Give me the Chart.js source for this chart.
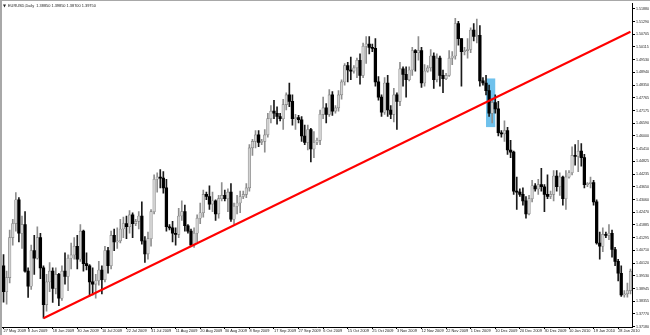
<!DOCTYPE html>
<html>
<head>
<meta charset="utf-8">
<script src="https://cdn.jsdelivr.net/npm/chart.js@4.4.0/dist/chart.umd.min.js"></script>
<style>
  body { margin: 0; background: #fff; }
</style>
</head>
<body>
<canvas id="eurusdChart" width="650" height="335"></canvas>
<script>
const dates = [
  '27 May 2009','28 May 2009','29 May 2009',
  '1 Jun 2009','2 Jun 2009','3 Jun 2009','4 Jun 2009','5 Jun 2009',
  '8 Jun 2009','9 Jun 2009','10 Jun 2009','11 Jun 2009','12 Jun 2009',
  '15 Jun 2009','16 Jun 2009','17 Jun 2009','18 Jun 2009','19 Jun 2009',
  '22 Jun 2009','23 Jun 2009','24 Jun 2009','25 Jun 2009','26 Jun 2009',
  '29 Jun 2009','30 Jun 2009','1 Jul 2009','2 Jul 2009','3 Jul 2009',
  '6 Jul 2009','7 Jul 2009','8 Jul 2009','9 Jul 2009','10 Jul 2009',
  '13 Jul 2009','14 Jul 2009','15 Jul 2009','16 Jul 2009','17 Jul 2009',
  '20 Jul 2009','21 Jul 2009','22 Jul 2009','23 Jul 2009','24 Jul 2009',
  '26 Jul 2009','27 Jul 2009','28 Jul 2009','29 Jul 2009','30 Jul 2009','31 Jul 2009',
  '3 Aug 2009','4 Aug 2009','5 Aug 2009','6 Aug 2009','7 Aug 2009',
  '9 Aug 2009','10 Aug 2009','11 Aug 2009','12 Aug 2009','13 Aug 2009','14 Aug 2009',
  '16 Aug 2009','17 Aug 2009','18 Aug 2009','19 Aug 2009','20 Aug 2009','21 Aug 2009',
  '23 Aug 2009','24 Aug 2009','25 Aug 2009','26 Aug 2009','27 Aug 2009','28 Aug 2009',
  '30 Aug 2009','31 Aug 2009','1 Sep 2009','2 Sep 2009','3 Sep 2009','4 Sep 2009',
  '6 Sep 2009','7 Sep 2009','8 Sep 2009','9 Sep 2009','10 Sep 2009','11 Sep 2009',
  '13 Sep 2009','14 Sep 2009','15 Sep 2009','16 Sep 2009','17 Sep 2009','18 Sep 2009',
  '20 Sep 2009','21 Sep 2009','22 Sep 2009','23 Sep 2009','24 Sep 2009','25 Sep 2009',
  '27 Sep 2009','28 Sep 2009','29 Sep 2009','30 Sep 2009','1 Oct 2009','2 Oct 2009',
  '4 Oct 2009','5 Oct 2009','6 Oct 2009','7 Oct 2009','8 Oct 2009','9 Oct 2009',
  '11 Oct 2009','12 Oct 2009','13 Oct 2009','14 Oct 2009','15 Oct 2009','16 Oct 2009',
  '18 Oct 2009','19 Oct 2009','20 Oct 2009','21 Oct 2009','22 Oct 2009','23 Oct 2009',
  '25 Oct 2009','26 Oct 2009','27 Oct 2009','28 Oct 2009','29 Oct 2009','30 Oct 2009',
  '1 Nov 2009','2 Nov 2009','3 Nov 2009','4 Nov 2009','5 Nov 2009','6 Nov 2009',
  '8 Nov 2009','9 Nov 2009','10 Nov 2009','11 Nov 2009','12 Nov 2009','13 Nov 2009',
  '15 Nov 2009','16 Nov 2009','17 Nov 2009','18 Nov 2009','19 Nov 2009','20 Nov 2009',
  '22 Nov 2009','23 Nov 2009','24 Nov 2009','25 Nov 2009','26 Nov 2009','27 Nov 2009',
  '29 Nov 2009','30 Nov 2009','1 Dec 2009','2 Dec 2009','3 Dec 2009','4 Dec 2009',
  '6 Dec 2009','7 Dec 2009','8 Dec 2009','9 Dec 2009','10 Dec 2009','11 Dec 2009',
  '13 Dec 2009','14 Dec 2009','15 Dec 2009','16 Dec 2009','17 Dec 2009','18 Dec 2009',
  '20 Dec 2009','21 Dec 2009','22 Dec 2009','23 Dec 2009','24 Dec 2009',
  '27 Dec 2009','28 Dec 2009','29 Dec 2009','30 Dec 2009','31 Dec 2009',
  '3 Jan 2010','4 Jan 2010','5 Jan 2010','6 Jan 2010','7 Jan 2010','8 Jan 2010',
  '10 Jan 2010','11 Jan 2010','12 Jan 2010','13 Jan 2010','14 Jan 2010','15 Jan 2010',
  '17 Jan 2010','18 Jan 2010','19 Jan 2010','20 Jan 2010','21 Jan 2010','22 Jan 2010',
  '24 Jan 2010','25 Jan 2010','26 Jan 2010','27 Jan 2010','28 Jan 2010','29 Jan 2010',
  '31 Jan 2010','1 Feb 2010','2 Feb 2010'
];

const opens = [
  1.4000,1.3880,1.3945,
  1.4130,1.4195,1.4305,1.4150,1.4190,
  1.3975,1.3905,1.4070,1.4035,1.4130,
  1.3990,1.3820,1.3925,1.3975,1.3895,
  1.3960,1.3850,1.3975,1.3950,1.4035,
  1.4050,1.4090,1.4030,1.4160,1.4010,
  1.4000,1.3925,1.3915,1.3930,1.3980,
  1.3935,1.4070,1.4000,1.4140,1.4110,
  1.4115,1.4170,1.4195,1.4180,1.4235,
  1.4195,1.4205,1.4230,1.4115,1.4055,1.4125,
  1.4250,1.4400,1.4410,1.4405,1.4360,
  1.4180,1.4175,1.4150,1.4145,1.4230,1.4250,
  1.4185,1.4160,1.4095,1.4150,1.4220,1.4245,
  1.4330,1.4320,1.4285,1.4300,1.4240,1.4310,
  1.4325,1.4310,1.4340,1.4215,1.4275,1.4290,
  1.4320,1.4330,1.4360,1.4545,1.4575,1.4605,
  1.4570,1.4575,1.4605,1.4680,1.4715,1.4705,
  1.4690,1.4680,1.4745,1.4790,1.4760,1.4680,
  1.4685,1.4675,1.4600,1.4570,1.4630,1.4540,
  1.4570,1.4580,1.4700,1.4730,1.4700,1.4790,
  1.4715,1.4730,1.4790,1.4850,1.4925,1.4905,
  1.4900,1.4915,1.4950,1.4880,1.5015,1.5025,
  1.5010,1.5005,1.4850,1.4780,1.4710,1.4845,
  1.4720,1.4700,1.4790,1.4760,1.4910,1.4885,
  1.4860,1.4905,1.4995,1.4985,1.4995,1.4845,
  1.4900,1.4915,1.4970,1.4860,1.4960,1.4880,
  1.4865,1.4880,1.4960,1.4970,1.5120,1.5050,
  1.4990,1.4995,1.5000,1.5090,1.5060,1.5065,
  1.4855,1.4845,1.4810,1.4705,1.4755,1.4725,
  1.4615,1.4610,1.4625,1.4535,1.4525,1.4345,
  1.4340,1.4330,1.4300,1.4240,1.4310,
  1.4370,1.4355,1.4375,1.4365,1.4330,
  1.4320,1.4330,1.4415,1.4365,1.4410,1.4310,
  1.4410,1.4430,1.4510,1.4505,1.4530,1.4500,
  1.4375,1.4380,1.4385,1.4295,1.4105,1.4090,
  1.4145,1.4140,1.4150,1.4075,1.4020,1.3965,
  1.3865,1.3870,1.3885
];

const highs = [
  1.4052,1.3975,1.4165,
  1.4215,1.4338,1.4315,1.4230,1.4250,
  1.3990,1.4095,1.4140,1.4180,1.4150,
  1.4000,1.3960,1.4015,1.3990,1.3990,
  1.3965,1.4000,1.4060,1.4050,1.4105,
  1.4130,1.4140,1.4190,1.4165,1.4060,
  1.4005,1.3990,1.3960,1.4020,1.4000,
  1.4090,1.4085,1.4160,1.4170,1.4175,
  1.4215,1.4225,1.4230,1.4255,1.4245,
  1.4215,1.4250,1.4295,1.4135,1.4155,1.4260,
  1.4420,1.4430,1.4445,1.4435,1.4400,
  1.4190,1.4205,1.4175,1.4265,1.4300,1.4280,
  1.4190,1.4170,1.4175,1.4235,1.4290,1.4350,
  1.4340,1.4370,1.4340,1.4305,1.4325,1.4385,
  1.4350,1.4355,1.4380,1.4290,1.4325,1.4345,
  1.4345,1.4380,1.4560,1.4585,1.4625,1.4625,
  1.4585,1.4630,1.4705,1.4740,1.4765,1.4735,
  1.4705,1.4770,1.4800,1.4845,1.4790,1.4700,
  1.4695,1.4690,1.4650,1.4650,1.4635,1.4620,
  1.4590,1.4720,1.4780,1.4750,1.4815,1.4805,
  1.4740,1.4810,1.4860,1.4935,1.4940,1.4965,
  1.4925,1.4960,1.4980,1.5030,1.5060,1.5060,
  1.5025,1.5050,1.4875,1.4790,1.4870,1.4880,
  1.4740,1.4820,1.4800,1.4940,1.4920,1.4920,
  1.4920,1.5010,1.5000,1.5060,1.5010,1.4930,
  1.4925,1.5000,1.4985,1.4980,1.4970,1.4905,
  1.4890,1.4995,1.4990,1.5144,1.5130,1.5050,
  1.5010,1.5050,1.5100,1.5120,1.5140,1.5110,
  1.4870,1.4880,1.4835,1.4770,1.4790,1.4760,
  1.4625,1.4670,1.4640,1.4580,1.4530,1.4410,
  1.4355,1.4360,1.4320,1.4325,1.4395,
  1.4380,1.4400,1.4450,1.4375,1.4420,
  1.4345,1.4440,1.4440,1.4430,1.4415,1.4440,
  1.4440,1.4550,1.4560,1.4580,1.4565,1.4515,
  1.4385,1.4410,1.4395,1.4305,1.4155,1.4175,
  1.4155,1.4190,1.4165,1.4085,1.4030,1.4000,
  1.3885,1.3920,1.3985
];

const lows = [
  1.3832,1.3822,1.3920,
  1.4095,1.4160,1.4110,1.4080,1.3970,
  1.3853,1.3890,1.3960,1.4030,1.3940,
  1.3757,1.3790,1.3880,1.3830,1.3870,
  1.3815,1.3840,1.3915,1.3885,1.3985,
  1.4030,1.3985,1.4020,1.3975,1.3980,
  1.3860,1.3865,1.3850,1.3910,1.3870,
  1.3925,1.3965,1.3985,1.4070,1.4080,
  1.4105,1.4130,1.4125,1.4150,1.4130,
  1.4185,1.4170,1.4100,1.4015,1.4030,1.4090,
  1.4240,1.4340,1.4360,1.4335,1.4160,
  1.4165,1.4110,1.4095,1.4130,1.4210,1.4160,
  1.4150,1.4090,1.4085,1.4110,1.4195,1.4225,
  1.4305,1.4260,1.4250,1.4210,1.4220,1.4300,
  1.4300,1.4250,1.4205,1.4192,1.4240,1.4245,
  1.4310,1.4315,1.4345,1.4510,1.4545,1.4550,
  1.4560,1.4525,1.4595,1.4660,1.4680,1.4655,
  1.4670,1.4630,1.4720,1.4735,1.4650,1.4630,
  1.4660,1.4575,1.4560,1.4535,1.4480,1.4500,
  1.4560,1.4560,1.4680,1.4660,1.4690,1.4695,
  1.4705,1.4715,1.4770,1.4835,1.4850,1.4860,
  1.4890,1.4870,1.4840,1.4870,1.4935,1.4980,
  1.4990,1.4830,1.4765,1.4690,1.4700,1.4690,
  1.4680,1.4665,1.4630,1.4740,1.4830,1.4780,
  1.4855,1.4880,1.4900,1.4950,1.4825,1.4830,
  1.4895,1.4900,1.4820,1.4850,1.4830,1.4800,
  1.4860,1.4875,1.4930,1.4955,1.5020,1.4830,
  1.4975,1.4960,1.4985,1.5040,1.5030,1.4830,
  1.4835,1.4790,1.4690,1.4660,1.4705,1.4600,
  1.4595,1.4575,1.4515,1.4500,1.4330,1.4260,
  1.4320,1.4280,1.4220,1.4235,1.4295,
  1.4345,1.4330,1.4345,1.4250,1.4310,
  1.4310,1.4300,1.4345,1.4325,1.4280,1.4260,
  1.4405,1.4420,1.4465,1.4435,1.4460,1.4360,
  1.4365,1.4360,1.4280,1.4100,1.4030,1.4065,
  1.4130,1.4120,1.4040,1.4000,1.3930,1.3858,
  1.3855,1.3855,1.3870
];

const closes = [
  1.3880,1.3945,1.4130,
  1.4195,1.4305,1.4150,1.4190,1.3975,
  1.3905,1.4070,1.4035,1.4130,1.3990,
  1.3820,1.3925,1.3975,1.3895,1.3960,
  1.3850,1.3975,1.3950,1.4035,1.4050,
  1.4090,1.4030,1.4160,1.4010,1.4000,
  1.3925,1.3915,1.3930,1.3980,1.3935,
  1.4070,1.4000,1.4140,1.4110,1.4115,
  1.4170,1.4195,1.4180,1.4235,1.4195,
  1.4205,1.4230,1.4115,1.4055,1.4125,1.4250,
  1.4400,1.4410,1.4405,1.4360,1.4180,
  1.4175,1.4150,1.4145,1.4230,1.4250,1.4185,
  1.4160,1.4095,1.4150,1.4220,1.4245,1.4330,
  1.4320,1.4285,1.4300,1.4240,1.4310,1.4325,
  1.4310,1.4340,1.4215,1.4275,1.4290,1.4320,
  1.4330,1.4360,1.4545,1.4575,1.4605,1.4570,
  1.4575,1.4605,1.4680,1.4715,1.4705,1.4690,
  1.4680,1.4745,1.4790,1.4760,1.4680,1.4685,
  1.4675,1.4600,1.4570,1.4630,1.4540,1.4570,
  1.4580,1.4700,1.4730,1.4700,1.4790,1.4715,
  1.4730,1.4790,1.4850,1.4925,1.4905,1.4900,
  1.4915,1.4950,1.4880,1.5015,1.5025,1.5010,
  1.5005,1.4850,1.4780,1.4710,1.4845,1.4720,
  1.4700,1.4790,1.4760,1.4910,1.4885,1.4860,
  1.4905,1.4995,1.4985,1.4995,1.4845,1.4900,
  1.4915,1.4970,1.4860,1.4960,1.4880,1.4865,
  1.4880,1.4960,1.4970,1.5120,1.5050,1.4990,
  1.4995,1.5000,1.5090,1.5060,1.5065,1.4855,
  1.4845,1.4810,1.4705,1.4755,1.4725,1.4615,
  1.4610,1.4625,1.4535,1.4525,1.4345,1.4340,
  1.4330,1.4300,1.4240,1.4310,1.4370,
  1.4355,1.4375,1.4365,1.4330,1.4320,
  1.4330,1.4415,1.4365,1.4410,1.4310,1.4410,
  1.4430,1.4510,1.4505,1.4530,1.4500,1.4375,
  1.4380,1.4385,1.4295,1.4105,1.4090,1.4145,
  1.4140,1.4150,1.4075,1.4020,1.3965,1.3865,
  1.3870,1.3885,1.3975
];

const priceTicks = [
  1.51880,1.51290,1.50705,1.50115,1.49530,1.48940,1.48350,1.47765,1.47175,
  1.46590,1.46000,1.45410,1.44825,1.44235,1.43650,1.43060,1.42470,1.41885,
  1.41295,1.40710,1.40120,1.39530,1.38945,1.38355,1.37770,1.37180
];

const dateTicks = [
  '27 May 2009','8 Jun 2009','18 Jun 2009','30 Jun 2009','10 Jul 2009','22 Jul 2009',
  '31 Jul 2009','11 Aug 2009','20 Aug 2009','30 Aug 2009','8 Sep 2009','17 Sep 2009',
  '27 Sep 2009','6 Oct 2009','15 Oct 2009','25 Oct 2009','3 Nov 2009','12 Nov 2009',
  '22 Nov 2009','1 Dec 2009','10 Dec 2009','20 Dec 2009','30 Dec 2009','10 Jan 2010',
  '19 Jan 2010','28 Jan 2010'
];

// trend line drawn on the chart: two anchor points (date, price)
const trendDates = ['15 Jun 2009', '2 Feb 2010'];
const trendPrices = [1.3757, 1.5082];

// highlighted rectangle around the breakout
const boxDates = ['7 Dec 2009', '10 Dec 2009'];
const boxPrices = [1.4641, 1.4866];

const bullBody = '#d2d2d2';
const bullEdge = '#808080';
const bearBody = '#000000';

const isBull = i => closes[i] >= opens[i];

const bodies = dates.map((d, i) => [opens[i], closes[i]]);
const wicks = dates.map((d, i) => [lows[i], highs[i]]);

const boxPlugin = {
  id: 'box',
  beforeDatasetsDraw(chart) {
    const ctx = chart.ctx;
    const x = chart.scales.x, y = chart.scales.y;
    const x1 = x.getPixelForValue(dates.indexOf(boxDates[0]));
    const x2 = x.getPixelForValue(dates.indexOf(boxDates[1]));
    const y1 = y.getPixelForValue(boxPrices[1]);
    const y2 = y.getPixelForValue(boxPrices[0]);
    ctx.save();
    ctx.fillStyle = '#6fc1ec';
    ctx.fillRect(x1, y1, x2 - x1, y2 - y1);
    ctx.restore();
  }
};

const framePlugin = {
  id: 'frame',
  beforeDraw(chart) {
    const ctx = chart.ctx;
    ctx.save();
    ctx.fillStyle = '#ffffff';
    ctx.fillRect(0, 0, chart.width, chart.height);
    ctx.restore();
  },
  afterDraw(chart) {
    const ctx = chart.ctx;
    const n = dates.length - 1;
    ctx.save();
    ctx.fillStyle = '#a8a8a8';
    ctx.fillRect(0, 0, 2, chart.height);
    ctx.fillRect(0, 0, chart.width, 1);
    // little symbol marker before the header
    ctx.fillStyle = '#222';
    ctx.beginPath();
    ctx.moveTo(3, 4.5);
    ctx.lineTo(6, 4.5);
    ctx.lineTo(4.5, 7.5);
    ctx.closePath();
    ctx.fill();
    ctx.font = '3.9px "Liberation Sans"';
    ctx.fillStyle = '#1a1a1a';
    ctx.textBaseline = 'middle';
    const f = v => v.toFixed(5);
    ctx.fillText('EURUSD,Daily  ' + f(opens[n]) + ' ' + f(highs[n]) + ' ' + f(lows[n]) + ' ' + f(closes[n]), 8, 6);
    ctx.restore();
  }
};

new Chart(document.getElementById('eurusdChart'), {
  type: 'bar',
  data: {
    labels: dates,
    datasets: [
      {
        type: 'line',
        data: trendDates.map((d, i) => ({ x: d, y: trendPrices[i] })),
        borderColor: '#ff0000',
        borderWidth: 2,
        pointRadius: 0,
        order: 0
      },
      {
        data: bodies,
        grouped: false,
        barThickness: 2.6,
        minBarLength: 1,
        borderSkipped: false,
        borderWidth: ctx => isBull(ctx.dataIndex) ? 0.6 : 0,
        borderColor: bullEdge,
        backgroundColor: ctx => isBull(ctx.dataIndex) ? bullBody : bearBody,
        order: 1
      },
      {
        data: wicks,
        grouped: false,
        barThickness: 1,
        borderWidth: 0,
        backgroundColor: ctx => isBull(ctx.dataIndex) ? '#8e8e8e' : '#1a1a1a',
        order: 2
      }
    ]
  },
  options: {
    responsive: false,
    animation: false,
    layout: { padding: { left: 2, top: 1, right: 0, bottom: 0 } },
    plugins: {
      legend: { display: false },
      tooltip: { enabled: false }
    },
    scales: {
      x: {
        offset: true,
        afterFit: s => { s.height = 8; },
        grid: { drawOnChartArea: false, offset: false, tickLength: 2, color: '#000' },
        border: { display: true, color: '#000' },
        ticks: {
          autoSkip: false,
          maxRotation: 0,
          minRotation: 0,
          align: 'start',
          padding: 0,
          color: '#1a1a1a',
          font: { family: 'Liberation Sans', size: 3.9 },
          callback: (v, i) => dateTicks.includes(dates[i]) ? dates[i] : null
        }
      },
      y: {
        position: 'right',
        min: 1.37166,
        max: 1.52142,
        afterBuildTicks: s => { s.ticks = priceTicks.map(v => ({ value: v })); },
        afterFit: s => { s.width = 18; },
        grid: { drawOnChartArea: false, tickLength: 3, color: '#000' },
        border: { display: true, color: '#000' },
        ticks: {
          padding: 1,
          crossAlign: 'near',
          color: '#1a1a1a',
          font: { family: 'Liberation Sans', size: 3.6 },
          callback: v => v.toFixed(5)
        }
      }
    }
  },
  plugins: [boxPlugin, framePlugin]
});
</script>
</body>
</html>
